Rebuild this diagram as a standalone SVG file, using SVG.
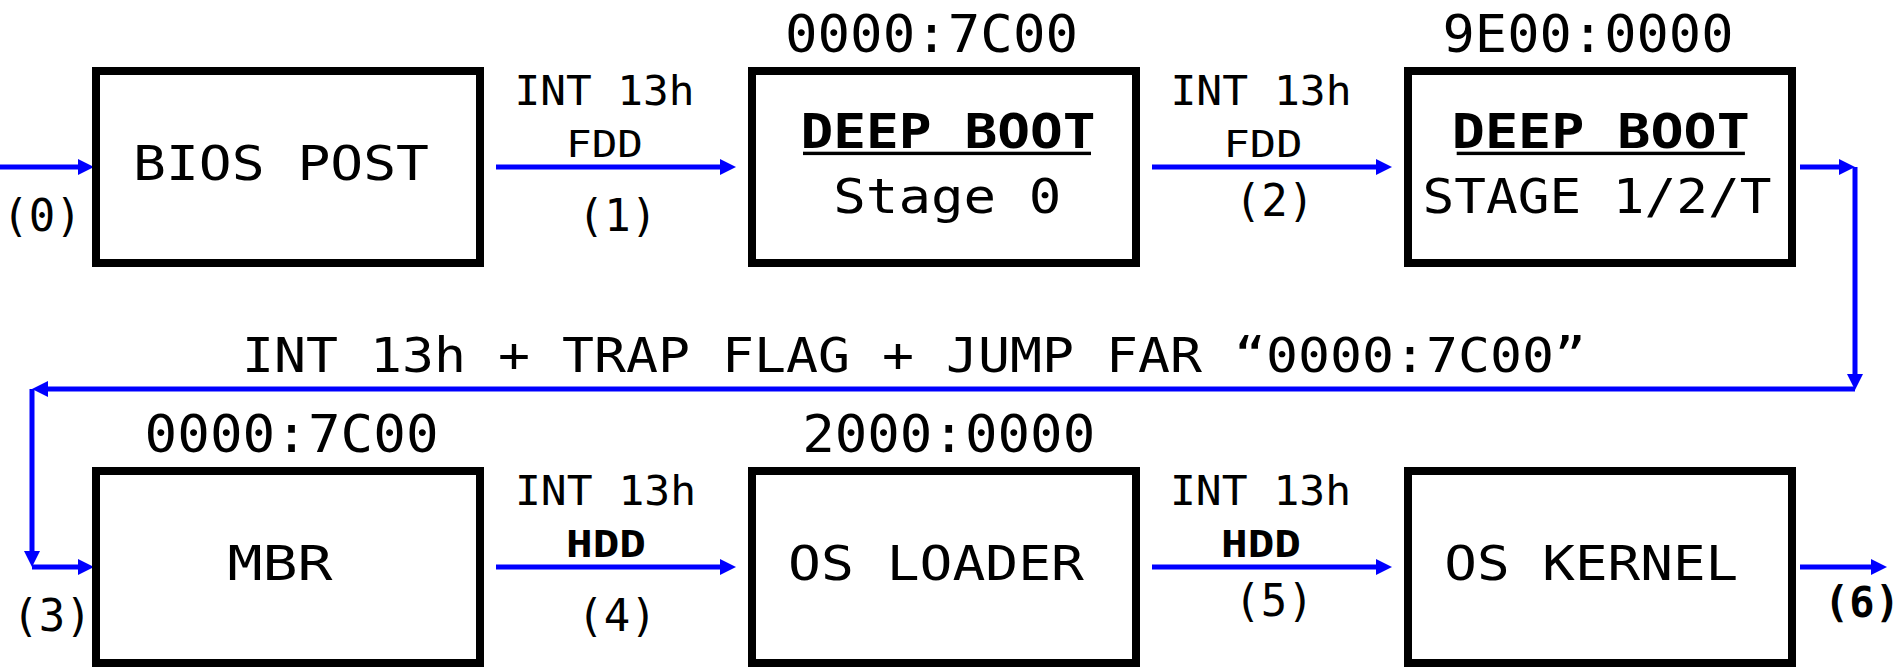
<svg xmlns="http://www.w3.org/2000/svg" width="1901" height="671" viewBox="0 0 1901 671">
  <style>
    .box { fill: #ffffff; stroke: #000000; stroke-width: 8; }
    .t { font-family: "DejaVu Sans Mono", "Liberation Mono", monospace; fill: #000000; text-anchor: middle; }
    .b { font-weight: bold; }
    .lbl { font-size: 48px; }
    .addr { font-size: 51px; }
    .int { font-size: 41px; }
    .dev { font-size: 38px; }
    .step { font-size: 44px; }
    .c { stroke: #0000ff; stroke-width: 5; fill: none; marker-end: url(#ah); }
    .ul { fill: #000000; }
  </style>
  <defs>
    <marker id="ah" markerUnits="userSpaceOnUse" markerWidth="16" markerHeight="16" refX="0" refY="8" orient="auto" overflow="visible">
      <path d="M0,0 L16,8 L0,16 Z" fill="#0000ff"/>
    </marker>
  </defs>
  <rect width="1901" height="671" fill="#ffffff"/>

  <!-- connectors -->
  <g id="connectors">
    <line class="c" x1="0" y1="167" x2="78" y2="167"/>
    <line class="c" x1="496" y1="167" x2="720" y2="167"/>
    <line class="c" x1="1152" y1="167" x2="1376" y2="167"/>
    <line class="c" x1="1800" y1="167" x2="1839" y2="167"/>
    <line class="c" x1="1855" y1="167" x2="1855" y2="374"/>
    <line class="c" x1="1855" y1="389" x2="48" y2="389"/>
    <line class="c" x1="32" y1="389" x2="32" y2="551"/>
    <line class="c" x1="32" y1="567" x2="78" y2="567"/>
    <line class="c" x1="496" y1="567" x2="720" y2="567"/>
    <line class="c" x1="1152" y1="567" x2="1376" y2="567"/>
    <line class="c" x1="1800" y1="567" x2="1871" y2="567"/>
  </g>

  <!-- connector labels -->
  <g id="connector-labels">
    <text class="t step" x="42" y="231">(0)</text>
    <text class="t int" x="604.5" y="105" textLength="180" lengthAdjust="spacingAndGlyphs">INT 13h</text>
    <text class="t dev" x="604.5" y="156.5" textLength="77" lengthAdjust="spacingAndGlyphs">FDD</text>
    <text class="t step" x="617.5" y="231">(1)</text>
    <text class="t int" x="1261" y="105" textLength="181" lengthAdjust="spacingAndGlyphs">INT 13h</text>
    <text class="t dev" x="1263" y="156.5" textLength="79" lengthAdjust="spacingAndGlyphs">FDD</text>
    <text class="t step" x="1274.5" y="216">(2)</text>
    <text class="t lbl" x="914" y="371.5" font-size="44" textLength="1344" lengthAdjust="spacingAndGlyphs">INT 13h + TRAP FLAG + JUMP FAR “0000:7C00”</text>
    <text class="t step" x="52" y="631">(3)</text>
    <text class="t int" x="605.5" y="505" textLength="181" lengthAdjust="spacingAndGlyphs">INT 13h</text>
    <text class="t dev b" x="606" y="556.5" textLength="80" lengthAdjust="spacingAndGlyphs">HDD</text>
    <text class="t step" x="617" y="631">(4)</text>
    <text class="t int" x="1260.5" y="505" textLength="181" lengthAdjust="spacingAndGlyphs">INT 13h</text>
    <text class="t dev b" x="1261" y="556.5" textLength="80" lengthAdjust="spacingAndGlyphs">HDD</text>
    <text class="t step" x="1274" y="616">(5)</text>
    <text class="t b" x="1862" y="617" font-size="42">(6)</text>
  </g>

  <g id="bios-post">
    <rect class="box" x="96" y="71" width="384" height="192"/>
    <text class="t lbl" x="281" y="180" textLength="296" lengthAdjust="spacingAndGlyphs">BIOS POST</text>
  </g>

  <g id="deep-boot-stage0">
    <text class="t addr" x="931.5" y="51.5" textLength="293" lengthAdjust="spacingAndGlyphs">0000:7C00</text>
    <rect class="box" x="752" y="71" width="384" height="192"/>
    <text class="t lbl b" x="948" y="148.3" textLength="295" lengthAdjust="spacingAndGlyphs">DEEP BOOT</text>
    <rect class="ul" x="803" y="151.7" width="288" height="3.4"/>
    <text class="t lbl" x="947.3" y="213.3" textLength="228" lengthAdjust="spacingAndGlyphs">Stage 0</text>
  </g>

  <g id="deep-boot-stage12t">
    <text class="t addr" x="1588" y="51.5" textLength="291" lengthAdjust="spacingAndGlyphs">9E00:0000</text>
    <rect class="box" x="1408" y="71" width="384" height="192"/>
    <text class="t lbl b" x="1600.8" y="148.3" textLength="298" lengthAdjust="spacingAndGlyphs">DEEP BOOT</text>
    <rect class="ul" x="1456.7" y="151.7" width="288.2" height="3.4"/>
    <text class="t lbl" x="1597" y="212.5" textLength="349" lengthAdjust="spacingAndGlyphs">STAGE 1/2/T</text>
  </g>

  <g id="mbr">
    <text class="t addr" x="291.6" y="451.5" textLength="294" lengthAdjust="spacingAndGlyphs">0000:7C00</text>
    <rect class="box" x="96" y="471" width="384" height="192"/>
    <text class="t lbl" x="280" y="580" textLength="105" lengthAdjust="spacingAndGlyphs">MBR</text>
  </g>

  <g id="os-loader">
    <text class="t addr" x="948.7" y="451.5" textLength="293" lengthAdjust="spacingAndGlyphs">2000:0000</text>
    <rect class="box" x="752" y="471" width="384" height="192"/>
    <text class="t lbl" x="936" y="580" textLength="296" lengthAdjust="spacingAndGlyphs">OS LOADER</text>
  </g>

  <g id="os-kernel">
    <rect class="box" x="1408" y="471" width="384" height="192"/>
    <text class="t lbl" x="1591.3" y="580" textLength="294" lengthAdjust="spacingAndGlyphs">OS KERNEL</text>
  </g>
</svg>
